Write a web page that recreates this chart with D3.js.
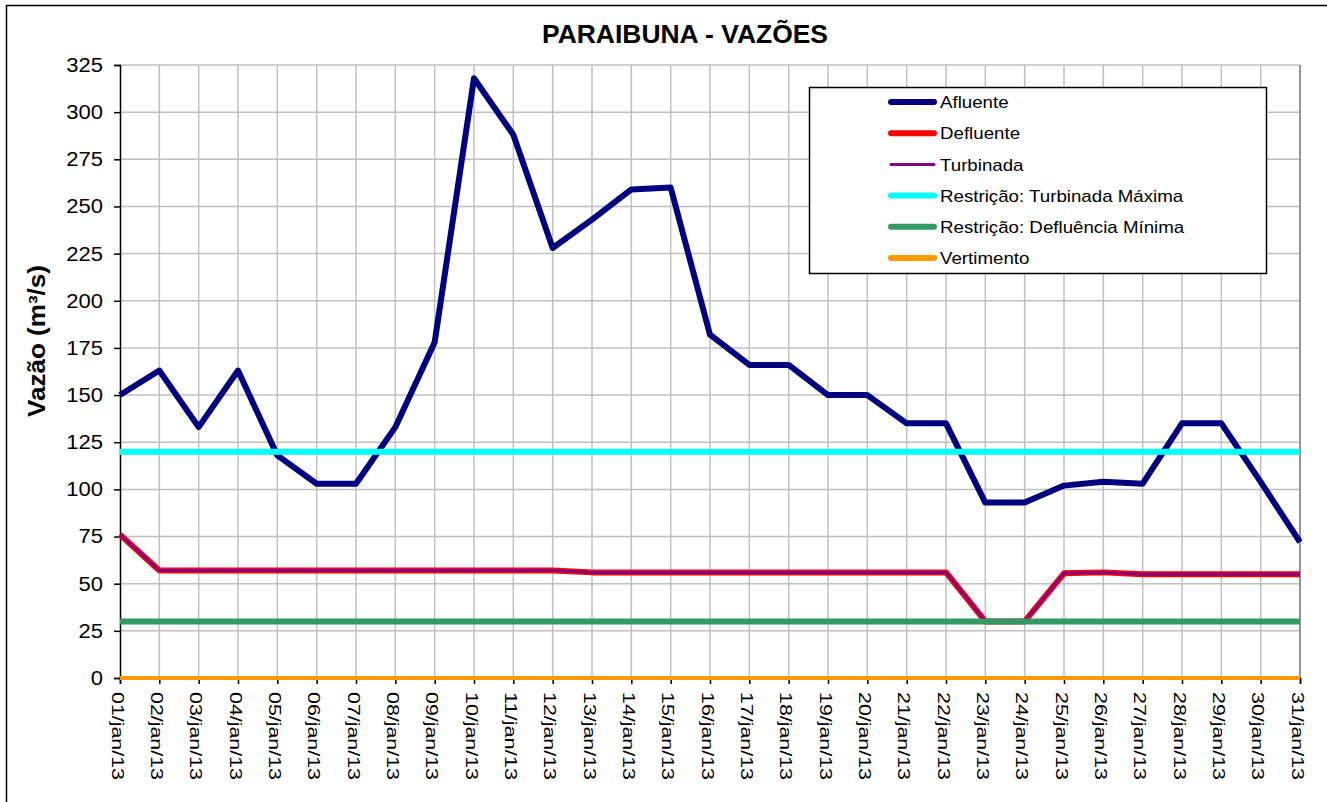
<!DOCTYPE html>
<html>
<head>
<meta charset="utf-8">
<script src="https://cdn.jsdelivr.net/npm/d3@7"></script>
<style>
  body { margin: 0; background: #fff; }
  text { font-family: "Liberation Sans", Arial, sans-serif; }
</style>
</head>
<body>
<svg width="1327" height="802"></svg>
<script>
// days of january 2013
var days = d3.range(1, 32);
var dayLabels = days.map(function(d) { return (d < 10 ? '0' + d : '' + d) + '/jan/13'; });

var afluente = [150, 163, 133, 163, 118, 103, 103, 133, 178, 318, 288, 228, 243, 259, 260,
  182, 166, 166, 150, 150, 135, 135, 93, 93, 102, 104, 103, 135, 135, 104, 72];
var defluente = [76, 57, 57, 57, 57, 57, 57, 57, 57, 57, 57, 57, 56, 56, 56,
  56, 56, 56, 56, 56, 56, 56, 30, 30, 55.5, 56, 55, 55, 55, 55, 55];
var turbinada = defluente.slice();
var turbMax = days.map(function() { return 120; });
var deflMin = days.map(function() { return 30; });
var vertimento = days.map(function() { return 0; });

var yTicks = d3.range(0, 326, 25);

var series = [
  { name: 'Afluente', values: afluente, color: '#000080', w: 6 },
  { name: 'Defluente', values: defluente, color: '#ff0000', w: 6 },
  { name: 'Turbinada', values: turbinada, color: '#800080', w: 3 },
  { name: 'Restrição: Turbinada Máxima', values: turbMax, color: '#00ffff', w: 6 },
  { name: 'Restrição: Defluência Mínima', values: deflMin, color: '#339966', w: 6 },
  { name: 'Vertimento', values: vertimento, color: '#ff9900', w: 4 }
];

var svg = d3.select('svg');

// excel draws its text a bit wider than the font, so stretch it
var stretch = function(sel, f) {
  sel.each(function() {
    var len = this.getComputedTextLength();
    d3.select(this).attr('textLength', len * f).attr('lengthAdjust', 'spacingAndGlyphs');
  });
};

// outer chart frame
svg.append('rect')
  .attr('x', 6.5).attr('y', 5.5)
  .attr('width', 1340).attr('height', 820)
  .attr('fill', 'none').attr('stroke', '#000').attr('stroke-width', 1.5);

var x = d3.scaleLinear().domain([1, 31]).range([120, 1300]);
var y = d3.scaleLinear().domain([0, 325]).range([678, 65]);

// grid
svg.append('g').selectAll('line')
  .data(days.slice(1))
  .enter().append('line')
  .attr('x1', function(d) { return x(d); }).attr('x2', function(d) { return x(d); })
  .attr('y1', y(325)).attr('y2', y(0))
  .attr('stroke', '#c0c0c0').attr('stroke-width', 1.5);
svg.append('g').selectAll('line')
  .data(yTicks.slice(1))
  .enter().append('line')
  .attr('x1', x(1)).attr('x2', x(31))
  .attr('y1', function(d) { return y(d); }).attr('y2', function(d) { return y(d); })
  .attr('stroke', '#c0c0c0').attr('stroke-width', 1.5);
svg.append('line')
  .attr('x1', x(31)).attr('x2', x(31)).attr('y1', y(325)).attr('y2', y(0))
  .attr('stroke', '#808080').attr('stroke-width', 1.5);

// axes
var yAxis = d3.axisLeft(y).tickValues(yTicks).tickSize(6).tickPadding(11);
var gy = svg.append('g').attr('transform', 'translate(' + x(1) + ',0)').call(yAxis);
gy.select('.domain').attr('stroke', '#000').attr('stroke-width', 1.5);
gy.selectAll('.tick line').attr('stroke', '#000').attr('stroke-width', 1.5);
gy.selectAll('.tick text').attr('font-size', '20px').attr('fill', '#000').call(stretch, 1.1);

var xAxis = d3.axisBottom(x).tickValues(days).tickSize(6)
  .tickFormat(function(d) { return dayLabels[d - 1]; });
var gx = svg.append('g').attr('transform', 'translate(0,' + y(0) + ')').call(xAxis);
gx.select('.domain').attr('stroke', '#000').attr('stroke-width', 1.5);
gx.selectAll('.tick line').attr('stroke', '#000').attr('stroke-width', 1.5);
gx.selectAll('.tick text')
  .attr('font-size', '16.5px').attr('fill', '#000')
  .attr('transform', 'rotate(90)')
  .attr('x', 14).attr('y', 0).attr('dy', 9)
  .attr('text-anchor', 'start')
  .attr('textLength', 88).attr('lengthAdjust', 'spacingAndGlyphs');

// lines, drawn in series order like the spreadsheet does
var line = d3.line()
  .x(function(d, i) { return x(days[i]); })
  .y(function(d) { return y(d); });

series.forEach(function(s) {
  svg.append('path')
    .datum(s.values)
    .attr('d', line)
    .attr('fill', 'none')
    .attr('stroke', s.color)
    .attr('stroke-width', s.w)
    .attr('stroke-linejoin', 'round');
});

// title
svg.append('text')
  .attr('x', 685).attr('y', 43)
  .attr('text-anchor', 'middle')
  .attr('font-size', '25px').attr('font-weight', 'bold')
  .attr('textLength', 286).attr('lengthAdjust', 'spacingAndGlyphs')
  .text('PARAIBUNA - VAZÕES');

// y label
svg.append('text')
  .attr('transform', 'translate(45,341) rotate(-90)')
  .attr('text-anchor', 'middle')
  .attr('font-size', '23px').attr('font-weight', 'bold')
  .attr('textLength', 152).attr('lengthAdjust', 'spacingAndGlyphs')
  .text('Vazão (m³/s)');

// legend
var legend = svg.append('g');
legend.append('rect')
  .attr('x', 809.5).attr('y', 87.5).attr('width', 457).attr('height', 186)
  .attr('fill', '#fff').attr('stroke', '#000').attr('stroke-width', 1.5);
var items = legend.selectAll('g.item')
  .data(series)
  .enter().append('g')
  .attr('transform', function(d, i) { return 'translate(0,' + (102 + i * 31.2) + ')'; });
items.append('line')
  .attr('x1', 891).attr('x2', 934)
  .attr('stroke', function(d) { return d.color; })
  .attr('stroke-width', function(d) { return d.w === 3 ? 3 : 6; })
  .attr('stroke-linecap', 'round');
items.append('text')
  .attr('x', 940).attr('dy', '0.36em')
  .attr('font-size', '17px')
  .text(function(d) { return d.name; })
  .call(stretch, 1.1);
</script>
</body>
</html>
